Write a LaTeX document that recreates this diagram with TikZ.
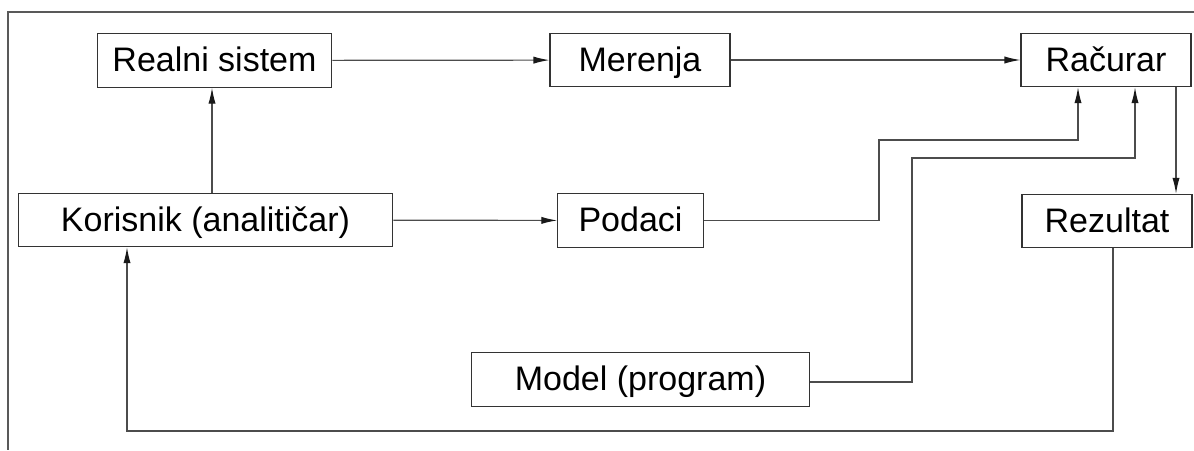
\documentclass[tikz,border=0pt]{standalone}
\usepackage{fontspec}
\setmainfont{Liberation Sans}
\usetikzlibrary{arrows.meta}

\tikzset{
  blok/.style={draw=black!80, line width=0.8pt, minimum height=40pt, inner sep=0pt,
    text height=20pt, text depth=3pt, font=\fontsize{25.5}{30}\selectfont},
  veza/.style={draw=black!70, line width=0.9pt, -{Latex[length=12pt,width=5.4pt,color=black!90]}},
  linija/.style={draw=black!65, line width=0.9pt}
}

\begin{document}
\begin{tikzpicture}[x=0.75pt,y=0.75pt,yscale=-1,xscale=1]
\useasboundingbox (0,0) rectangle (1194,450);

%Frame (top and left)
\draw [linija] (1194,12) -- (8,12) -- (8,450) ;

% Text Node
\node [blok, minimum width=176pt] (real) at (214.5,60.5) {Realni sistem};
% Text Node
\node [blok, minimum width=135pt] (meren) at (640,60) {Merenja};
% Text Node
\node [blok, minimum width=127.5pt] (racun) at (1106,60) {Račurar};
% Text Node
\node [blok, minimum width=281pt] (koris) at (205.5,220) {Korisnik (analitičar)};
% Text Node
\node [blok, minimum width=109pt] (podaci) at (630.5,220.5) {Podaci};
% Text Node
\node [blok, minimum width=127.5pt] (rezult) at (1107,221) {Rezultat};
% Text Node
\node [blok, minimum width=253pt, minimum height=41pt] (model) at (640.5,379.5) {Model (program)};

%Bends of the long connectors
\coordinate (pkol) at (879,140) ;
\coordinate (mkol) at (912,158) ;
\coordinate (dno) at (127,431) ;

%Straight Lines
\draw [veza] (real) -- (meren) ;
\draw [veza] (meren) -- (racun) ;
\draw [veza] (koris.north -| 212,0) -- (real.south -| 212,0) ;
\draw [veza] (koris) -- (podaci) ;
%Podaci -> Racurar
\draw [veza] (podaci.east) -| (pkol) -| ([xshift=-21pt]racun.south) ;
%Model -> Racurar
\draw [veza] (model.east |- 0,382) -| (mkol) -| ([xshift=21.75pt]racun.south) ;
%Racurar -> Rezultat
\draw [veza] ([xshift=52.5pt]racun.south) -- ([xshift=52.5pt]racun.south |- rezult.north) ;
%Rezultat -> Korisnik
\draw [veza] ([xshift=4.5pt]rezult.south) |- (dno) -- (dno |- koris.south) ;

\end{tikzpicture}
\end{document}
